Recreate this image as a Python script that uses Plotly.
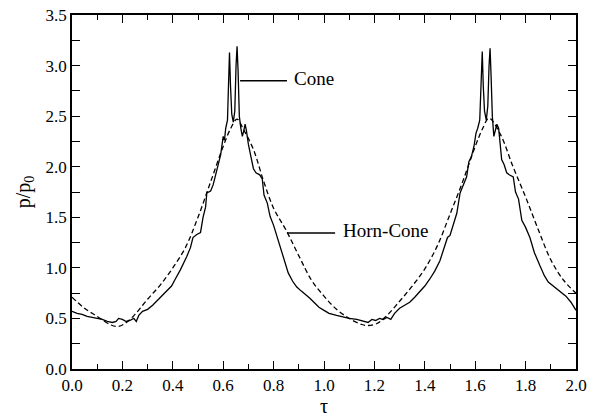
import plotly.graph_objects as go

# Cone (solid) data
tau_cone = [0.00, 0.02, 0.04, 0.06, 0.08, 0.10, 0.12, 0.14, 0.16, 0.175, 0.185, 0.20, 0.215, 0.23, 0.245,
            0.255, 0.265, 0.28, 0.30, 0.32, 0.335, 0.35, 0.365, 0.38, 0.395, 0.41, 0.43, 0.455, 0.47, 0.48,
            0.495, 0.51, 0.52, 0.53, 0.535, 0.55, 0.56, 0.57, 0.58, 0.59, 0.60, 0.605, 0.61, 0.617, 0.621,
            0.625, 0.629, 0.634, 0.64, 0.646, 0.651, 0.655, 0.659, 0.664, 0.67, 0.676, 0.682, 0.687, 0.692,
            0.70, 0.71, 0.72, 0.73, 0.745, 0.755, 0.762, 0.775, 0.786, 0.80, 0.815, 0.832, 0.845, 0.858,
            0.875, 0.892, 0.91, 0.925, 0.944, 0.96, 0.98, 1.00, 1.02, 1.05, 1.08, 1.10, 1.13, 1.16, 1.175,
            1.19, 1.205, 1.22, 1.235, 1.25, 1.265, 1.28, 1.30, 1.32, 1.34, 1.36, 1.38, 1.40, 1.42, 1.44,
            1.46, 1.48, 1.49, 1.50, 1.515, 1.527, 1.54, 1.55, 1.566, 1.575, 1.585, 1.595, 1.603, 1.61,
            1.618, 1.623, 1.628, 1.632, 1.637, 1.644, 1.65, 1.655, 1.659, 1.663, 1.668, 1.674, 1.68, 1.686,
            1.693, 1.70, 1.705, 1.715, 1.725, 1.735, 1.751, 1.76, 1.772, 1.785, 1.80, 1.817, 1.835, 1.857,
            1.875, 1.89, 1.91, 1.93, 1.96, 1.98, 2.00]
p_cone = [0.57, 0.55, 0.54, 0.52, 0.51, 0.50, 0.49, 0.47, 0.46, 0.47, 0.50, 0.49, 0.47, 0.48, 0.50,
          0.47, 0.53, 0.57, 0.59, 0.63, 0.67, 0.71, 0.74, 0.78, 0.82, 0.89, 0.98, 1.11, 1.20, 1.30,
          1.33, 1.35, 1.50, 1.60, 1.74, 1.76, 1.82, 1.92, 2.02, 2.12, 2.30, 2.26, 2.38, 2.46, 2.80,
          3.13, 2.80, 2.52, 2.44, 2.55, 3.00, 3.19, 2.95, 2.50, 2.38, 2.30, 2.36, 2.42, 2.36,
          2.22, 2.10, 1.98, 1.94, 1.92, 1.88, 1.72, 1.64, 1.51, 1.42, 1.30, 1.14, 1.04, 0.95,
          0.87, 0.81, 0.77, 0.74, 0.70, 0.66, 0.61, 0.58, 0.55, 0.53, 0.51, 0.50, 0.49, 0.47, 0.46,
          0.49, 0.48, 0.50, 0.49, 0.51, 0.49, 0.55, 0.60, 0.63, 0.66, 0.71, 0.76, 0.82, 0.89, 0.97,
          1.07, 1.22, 1.30, 1.32, 1.45, 1.54, 1.74, 1.80, 1.90, 2.05, 2.10, 2.20, 2.33, 2.38,
          2.46, 2.80, 3.14, 2.80, 2.55, 2.46, 2.60, 3.00, 3.17, 2.90, 2.50, 2.30, 2.35, 2.42,
          2.38, 2.20, 2.07, 2.02, 1.94, 1.92, 1.90, 1.75, 1.68, 1.47, 1.40, 1.30, 1.15, 1.02,
          0.92, 0.86, 0.82, 0.78, 0.72, 0.66, 0.58]

# Horn-Cone (dashed) data
tau_horn = [0.00, 0.05, 0.10, 0.15, 0.18, 0.21, 0.25, 0.30, 0.35, 0.40, 0.45, 0.50, 0.55, 0.60, 0.63,
            0.655, 0.68, 0.72, 0.76, 0.80, 0.85, 0.90, 0.95, 1.00, 1.05, 1.10, 1.15, 1.17, 1.21, 1.25,
            1.30, 1.35, 1.40, 1.45, 1.50, 1.55, 1.60, 1.63, 1.655, 1.70, 1.75, 1.80, 1.85, 1.90, 1.95, 2.00]
p_horn = [0.71, 0.60, 0.52, 0.44, 0.42, 0.45, 0.54, 0.69, 0.83, 1.00, 1.20, 1.50, 1.85, 2.20, 2.38,
          2.47, 2.37, 2.17, 1.86, 1.59, 1.37, 1.12, 0.88, 0.72, 0.59, 0.50, 0.44, 0.43, 0.45, 0.53,
          0.67, 0.82, 0.99, 1.22, 1.53, 1.85, 2.20, 2.38, 2.48, 2.32, 2.00, 1.70, 1.38, 1.08, 0.88, 0.75]

x_ticks = [0.0, 0.2, 0.4, 0.6, 0.8, 1.0, 1.2, 1.4, 1.6, 1.8, 2.0]
y_ticks = [0.0, 0.5, 1.0, 1.5, 2.0, 2.5, 3.0, 3.5]

FONT = "Liberation Serif, Times New Roman, DejaVu Serif, serif"

fig = go.Figure()
fig.add_trace(go.Scatter(x=tau_horn, y=p_horn, mode="lines", name="Horn-Cone",
                         line=dict(color="black", width=1.3, dash="5px,3px", shape="spline")))
fig.add_trace(go.Scatter(x=tau_cone, y=p_cone, mode="lines", name="Cone",
                         line=dict(color="black", width=1.3)))

# label leader lines
fig.add_shape(type="line", x0=0.667, x1=0.853, y0=2.85, y1=2.85, line=dict(color="black", width=1.5))
fig.add_shape(type="line", x0=0.853, x1=1.044, y0=1.345, y1=1.345, line=dict(color="black", width=1.5))
fig.add_annotation(x=0.873, y=2.87, text="Cone", showarrow=False, xanchor="left", yanchor="middle",
                   font=dict(family=FONT, size=19, color="black"))
fig.add_annotation(x=1.067, y=1.365, text="Horn-Cone", showarrow=False, xanchor="left", yanchor="middle",
                   font=dict(family=FONT, size=19, color="black"))

axis_common = dict(showline=True, linecolor="black", linewidth=1.5, mirror="ticks", ticks="inside",
                   tickcolor="black", tickwidth=1, showgrid=False, zeroline=False, automargin=False,
                   tickfont=dict(family=FONT, size=17, color="black"))

fig.update_xaxes(range=[0, 2.0], tickvals=x_ticks, ticktext=[f"{v:.1f}" for v in x_ticks], ticklen=8,
                 minor=dict(dtick=0.1, ticks="inside", ticklen=5, tickcolor="black"),
                 title=dict(text="τ", font=dict(family=FONT, size=20, color="black"), standoff=4),
                 **axis_common)
fig.update_yaxes(range=[0, 3.5], tickvals=y_ticks, ticktext=[f"{v:.1f}" for v in y_ticks], ticklen=8,
                 minor=dict(dtick=0.25, ticks="inside", ticklen=8, tickcolor="black"),
                 title=dict(text="p/p<sub>0</sub>", font=dict(family=FONT, size=20, color="black"), standoff=10),
                 **axis_common)

fig.update_layout(width=597, height=420, margin=dict(l=72, r=21, t=15, b=51),
                  font=dict(family=FONT, color="black"),
                  paper_bgcolor="white", plot_bgcolor="white", showlegend=False)

fig.write_html("out.html")
